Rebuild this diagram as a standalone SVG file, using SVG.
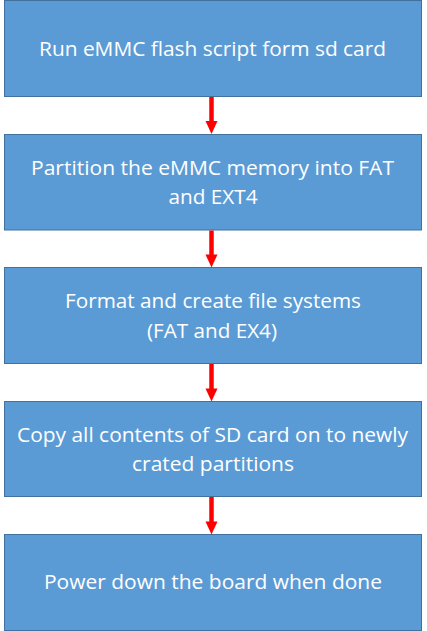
<svg xmlns="http://www.w3.org/2000/svg" width="427" height="631" viewBox="0 0 427 631">
<defs>
<style>
.box{fill:#5B9BD5;stroke:#41719C;stroke-width:1}
.lbl{font-family:"Open Sans","Liberation Sans",Arial,sans-serif;font-size:19.5px;fill:#FFFFFF;text-anchor:middle}
.con{stroke:#FF0000;stroke-width:4.5;fill:none}
.head{fill:#FF0000}
</style>
</defs>
<rect width="427" height="631" fill="#FFFFFF"/>
<g id="n1"><rect class="box" x="4.5" y="0.5" width="417" height="96"/><text class="lbl" x="212.5" y="55.7" textLength="347" lengthAdjust="spacingAndGlyphs">Run eMMC flash script form sd card</text></g>
<g id="n2"><rect class="box" x="4.5" y="134.5" width="417" height="95.5"/><text class="lbl" x="212.5" y="175" textLength="363" lengthAdjust="spacingAndGlyphs">Partition the eMMC memory into FAT</text><text class="lbl" x="213" y="204" textLength="89" lengthAdjust="spacingAndGlyphs">and EXT4</text></g>
<g id="n3"><rect class="box" x="4.5" y="267.5" width="417" height="96"/><text class="lbl" x="213" y="308.3" textLength="296" lengthAdjust="spacingAndGlyphs">Format and create file systems</text><text class="lbl" x="212" y="337.5" textLength="130" lengthAdjust="spacingAndGlyphs">(FAT and EX4)</text></g>
<g id="n4"><rect class="box" x="4.5" y="401.5" width="417" height="95"/><text class="lbl" x="212.5" y="441.7" textLength="391" lengthAdjust="spacingAndGlyphs">Copy all contents of SD card on to newly</text><text class="lbl" x="213" y="470.7" textLength="162" lengthAdjust="spacingAndGlyphs">crated partitions</text></g>
<g id="n5"><rect class="box" x="4.5" y="534.5" width="417" height="96"/><text class="lbl" x="213" y="589" textLength="338" lengthAdjust="spacingAndGlyphs">Power down the board when done</text></g>
<g id="connectors">
<line class="con" x1="211.5" y1="97" x2="211.5" y2="122"/><polygon class="head" points="205.5,121 217.5,121 211.5,134"/>
<line class="con" x1="211.5" y1="230.5" x2="211.5" y2="255"/><polygon class="head" points="205.5,254.5 217.5,254.5 211.5,267.5"/>
<line class="con" x1="211.5" y1="364" x2="211.5" y2="389"/><polygon class="head" points="205.5,388.5 217.5,388.5 211.5,401.5"/>
<line class="con" x1="211.5" y1="497" x2="211.5" y2="522"/><polygon class="head" points="205.5,521.5 217.5,521.5 211.5,534.5"/>
</g>
</svg>
